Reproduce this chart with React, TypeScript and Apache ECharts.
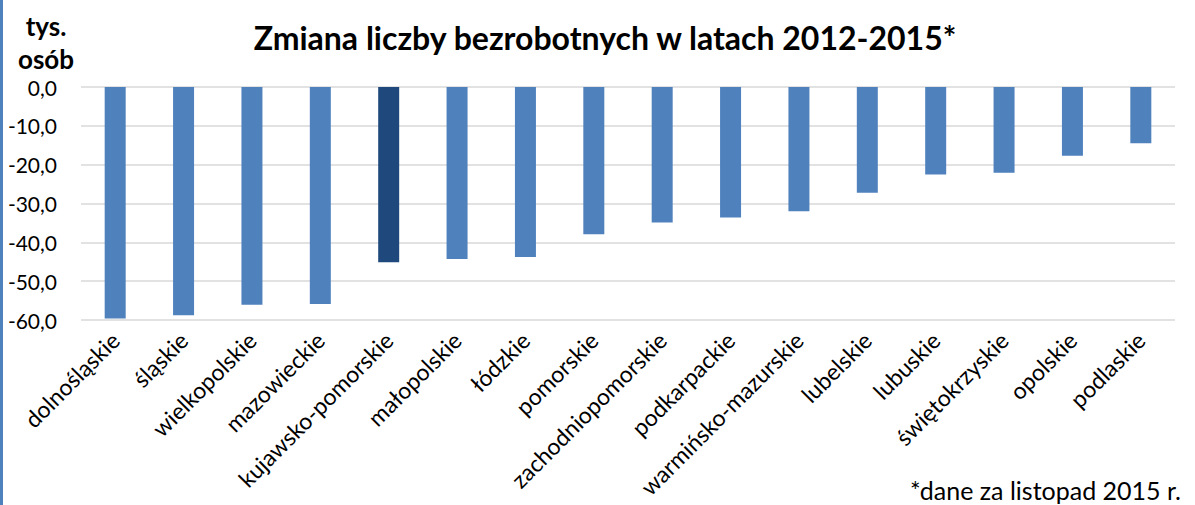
import React, { useEffect, useRef } from "react";
import * as echarts from "echarts";

const categories = [
  "dolnośląskie",
  "śląskie",
  "wielkopolskie",
  "mazowieckie",
  "kujawsko-pomorskie",
  "małopolskie",
  "łódzkie",
  "pomorskie",
  "zachodniopomorskie",
  "podkarpackie",
  "warmińsko-mazurskie",
  "lubelskie",
  "lubuskie",
  "świętokrzyskie",
  "opolskie",
  "podlaskie",
];
const values = [
  -59.6, -58.8, -56.1, -55.9, -45.1, -44.3, -43.8, -37.9, -34.9, -33.6, -32.0,
  -27.2, -22.5, -22.1, -17.7, -14.5,
];
const highlighted = "kujawsko-pomorskie";
const titleText = "Zmiana liczby bezrobotnych w latach 2012-2015*";
const unitText = "tys.\nosób";
const noteText = "*dane za listopad 2015 r.";

const FONT = "Lato, 'Open Sans', sans-serif";

export default function App() {
  const ref = useRef<HTMLDivElement>(null);
  useEffect(() => {
    if (!ref.current) return;
    const chart = echarts.init(ref.current, null, { renderer: "svg" });
    chart.setOption({
      animation: false,
      backgroundColor: "#ffffff",
      textStyle: { fontFamily: FONT },
      title: {
        text: titleText,
        left: 600,
        textAlign: "center",
        top: 16,
        textStyle: {
          fontFamily: FONT,
          fontWeight: "bold",
          fontSize: 32,
          color: "#000000",
        },
      },
      grid: { left: 81, right: 20, top: 87, bottom: 185 },
      xAxis: {
        type: "category",
        data: categories,
        position: "bottom",
        axisLine: { show: false, onZero: false },
        axisTick: { show: false },
        axisLabel: {
          interval: 0,
          rotate: 45,
          margin: 16,
          fontSize: 23,
          color: "#000000",
          fontFamily: FONT,
        },
      },
      yAxis: {
        type: "value",
        min: -60,
        max: 0,
        interval: 10,
        axisLine: { show: false },
        axisTick: { show: false },
        splitLine: { lineStyle: { color: "#d9d9d9", width: 1.5 } },
        axisLabel: {
          margin: 24,
          fontSize: 21,
          color: "#000000",
          fontFamily: FONT,
          formatter: (v: number) => v.toFixed(1).replace(".", ","),
        },
      },
      series: [
        {
          type: "bar",
          barWidth: 21,
          data: values.map((v, i) => ({
            value: v,
            itemStyle: {
              color: categories[i] === highlighted ? "#1f497d" : "#4f81bd",
            },
          })),
        },
      ],
      graphic: [
        {
          type: "rect",
          left: 0,
          top: 0,
          shape: { width: 3, height: 505 },
          style: { fill: "#4f81bd" },
        },
        {
          type: "text",
          x: 46,
          y: 9,
          style: {
            text: unitText,
            fontFamily: FONT,
            fontWeight: "bold",
            fontSize: 26,
            lineHeight: 33,
            fill: "#000000",
            textAlign: "center",
          },
        },
        {
          type: "text",
          right: 14,
          top: 477,
          style: {
            text: noteText,
            fontFamily: FONT,
            fontSize: 25,
            fill: "#000000",
          },
        },
      ],
    });
    return () => chart.dispose();
  }, []);
  return (
    <div
      ref={ref}
      style={{ position: "absolute", left: 0, top: 0, width: 1195, height: 505 }}
    />
  );
}
